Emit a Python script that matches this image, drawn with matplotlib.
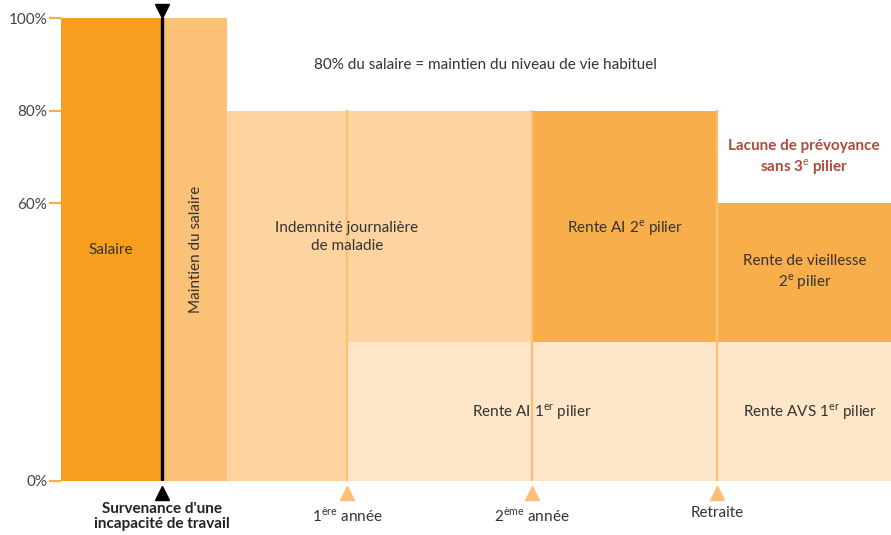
import matplotlib.pyplot as plt

plt.rcParams['font.family'] = ['Lato', 'DejaVu Sans']
plt.rcParams['mathtext.fontset'] = 'custom'
plt.rcParams['mathtext.rm'] = 'Lato'

# timeline positions (arbitrary units along the career)
t_start = 0.0
t_event = 1.01
t_maintien_end = 1.66
t_year1 = 2.86
t_year2 = 4.71
t_retraite = 6.56
t_end = 8.30

# blocks: left, right, bottom, top (% of salary)
block_x0 = [t_start, t_event, t_maintien_end, t_year1, t_year1, t_year2, t_retraite, t_retraite]
block_x1 = [t_event, t_maintien_end, t_year1, t_year2, t_retraite, t_retraite, t_end, t_end]
block_y0 = [0, 0, 0, 30, 0, 30, 0, 30]
block_y1 = [100, 100, 80, 80, 30, 80, 30, 60]
block_colors = ['#F79E1F', '#FBC177', '#FDD4A0', '#FDD4A0', '#FEE6C8', '#F9AE4C', '#FEE6C8', '#F9AE4C']

milestones = [t_year1, t_year2, t_retraite]
milestone_labels = ['1$^{\\mathrm{ère}}$ année', '2$^{\\mathrm{ème}}$ année', 'Retraite']

yticks = [0, 60, 80, 100]
ytick_labels = ['0%', '60%', '80%', '100%']

text_dark = '#333333'
fs = 11

fig = plt.figure(figsize=(8.91, 5.35), dpi=100)
ax = fig.add_axes([61 / 891, 54 / 535, 830 / 891, 463 / 535])

for x0, x1, y0, y1, c in zip(block_x0, block_x1, block_y0, block_y1, block_colors):
    ax.bar(x0, y1 - y0, width=x1 - x0, bottom=y0, align='edge', color=c, linewidth=0)

# milestone lines with triangles under the axis
for m, lab in zip(milestones, milestone_labels):
    ax.plot([m, m], [0, 80], color='#FDBF78', lw=1.6, zorder=3)
    ax.plot(m, -2.6, marker='^', ms=10, color='#FDBF78', clip_on=False, zorder=4)
    ax.text(m, -5.5, lab, ha='center', va='top', fontsize=fs, color=text_dark)

# event line
ax.plot([t_event, t_event], [0, 100], color='black', lw=2.4, zorder=5)
ax.plot(t_event, 101.6, marker='v', ms=10, color='black', clip_on=False, zorder=6)
ax.plot(t_event, -2.6, marker='^', ms=10, color='black', clip_on=False, zorder=6)
ax.text(t_event, -4.6, "Survenance d'une\nincapacité de travail", ha='center', va='top',
        fontsize=11, fontweight='bold', color='#222222', linespacing=1.05)

# block labels
ax.text(0.5, 50, 'Salaire', ha='center', va='center', fontsize=fs, color=text_dark)
ax.text(1.35, 50, 'Maintien du salaire', ha='center', va='center', rotation=90,
        fontsize=fs, color=text_dark)
ax.text(2.86, 52.7, 'Indemnité journalière\nde maladie', ha='center', va='center',
        fontsize=fs, color=text_dark, linespacing=1.3)
ax.text(5.64, 54.6, 'Rente AI 2$^{\\mathrm{e}}$ pilier', ha='center', va='center',
        fontsize=fs, color=text_dark)
ax.text(7.44, 45.0, 'Rente de vieillesse\n2$^{\\mathrm{e}}$ pilier', ha='center', va='center',
        fontsize=fs, color=text_dark, linespacing=1.3)
ax.text(4.71, 14.9, 'Rente AI 1$^{\\mathrm{er}}$ pilier', ha='center', va='center',
        fontsize=fs, color=text_dark)
ax.text(7.49, 14.9, 'Rente AVS 1$^{\\mathrm{er}}$ pilier', ha='center', va='center',
        fontsize=fs, color=text_dark)
ax.text(7.43, 69.8, 'Lacune de prévoyance\nsans 3$^{\\mathrm{e}}$ pilier', ha='center', va='center',
        fontsize=fs, fontweight='bold', color='#B04A3C', linespacing=1.3)
ax.text(4.24, 89.8, '80% du salaire = maintien du niveau de vie habituel', ha='center',
        va='center', fontsize=fs, color=text_dark)

ax.set_xlim(t_start, t_end)
ax.set_ylim(0, 100)
ax.set_yticks(yticks)
ax.set_yticklabels(ytick_labels)
ax.tick_params(axis='y', length=9, width=1.6, color='#F9AE4C', labelsize=fs,
               labelcolor='#444444', pad=1)
ax.set_xticks([])
for s in ax.spines.values():
    s.set_visible(False)

fig.savefig('out.png', dpi=100)
